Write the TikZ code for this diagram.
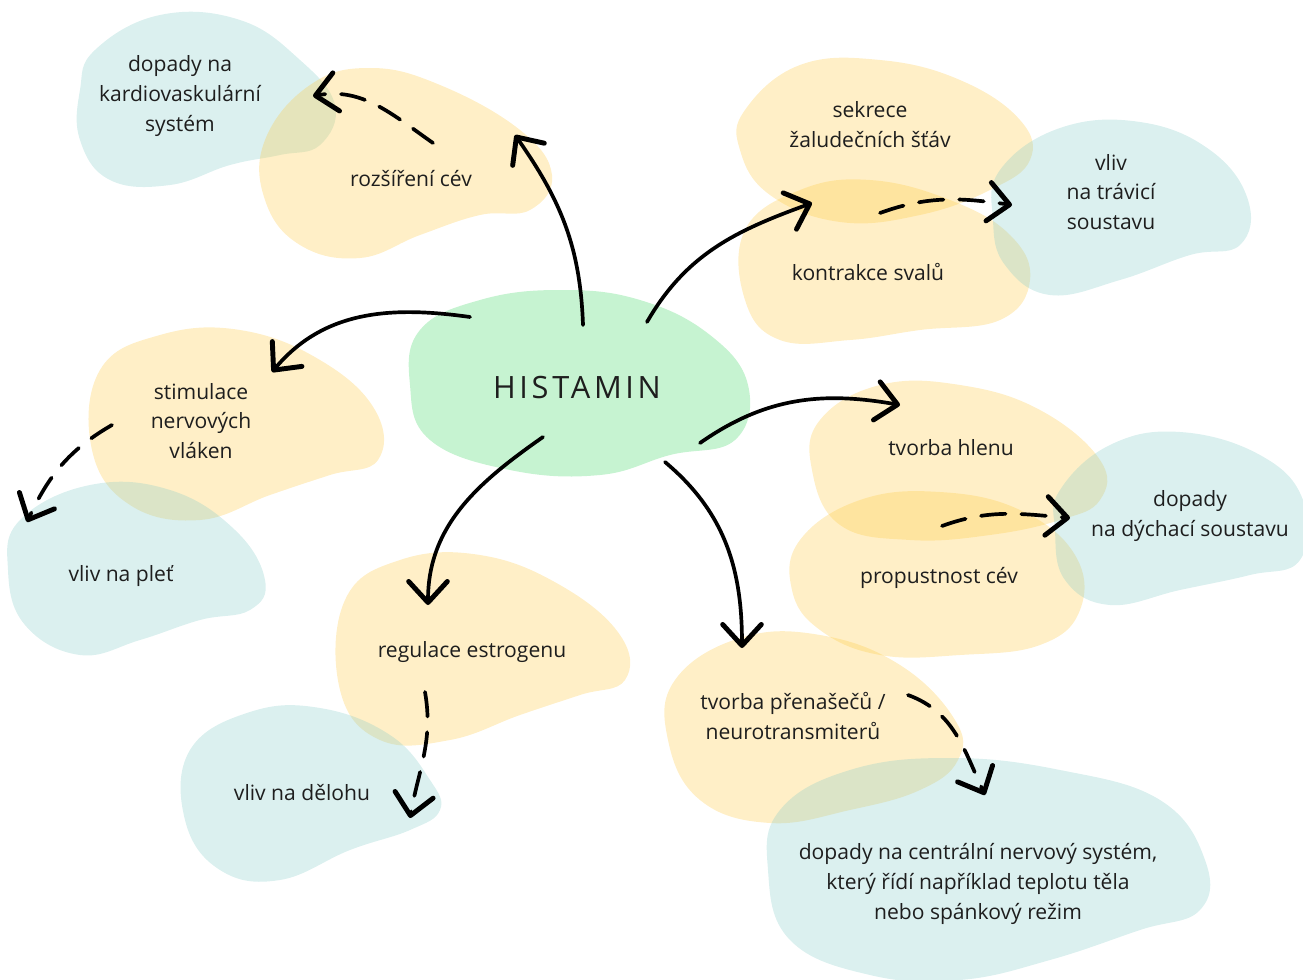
\documentclass[tikz,border=0pt]{standalone}
\usepackage{fontspec}
\setmainfont{Open Sans}
\newfontfamily\histfont[LetterSpace=12]{Open Sans}
\usepackage{tikz}
\usetikzlibrary{arrows.meta,calc}
\definecolor{yel}{RGB}{254,202,68}
\definecolor{blu}{RGB}{135,205,202}
\definecolor{grn}{RGB}{198,243,209}
\definecolor{ink}{RGB}{30,30,30}

\begin{document}
\begin{tikzpicture}[
    x=0.02cm,y=-0.02cm,
    every node/.style={font=\fontsize{12}{17}\selectfont,text=ink},
    lbl/.style={align=center},
    yblob/.style={fill=yel,fill opacity=0.3},
    bblob/.style={fill=blu,fill opacity=0.3},
    arr/.style={
        -{Straight Barb[length=12pt,width=22pt,round,line width=2.8pt]},
        line width=2.1pt,line cap=round
    },
    darr/.style={arr,dash pattern=on 14pt off 9pt}
]
\useasboundingbox (0,0) rectangle (1303,980);

\fill[bblob] plot[smooth cycle,tension=0.7] coordinates {(95,50) (160,15) (240,20) (300,60) (335,105) (320,145) (280,155) (230,165) (170,185) (110,180) (80,140) (80,90)};
\fill[yblob] plot[smooth cycle,tension=0.7] coordinates {(265,140) (310,85) (370,68) (440,85) (520,130) (552,175) (530,210) (480,215) (420,235) (360,258) (300,245) (265,200)};
\fill[yblob] plot[smooth cycle,tension=0.7] coordinates {(745,110) (800,65) (880,60) (960,80) (1020,120) (1030,160) (990,190) (920,215) (840,222) (770,195) (740,150)};
\fill[yblob] plot[smooth cycle,tension=0.7] coordinates {(745,230) (800,190) (870,180) (950,200) (1010,235) (1030,280) (1000,320) (920,330) (850,340) (780,340) (745,300)};
\fill[bblob] plot[smooth cycle,tension=0.7] coordinates {(1000,170) (1060,128) (1140,122) (1210,150) (1248,200) (1240,245) (1190,255) (1120,280) (1050,295) (1005,265) (993,220)};
\fill[grn] plot[smooth cycle,tension=0.7] coordinates {(420,330) (480,300) (560,290) (640,300) (710,335) (748,385) (735,440) (670,455) (600,475) (510,470) (430,440) (410,385)};
\fill[yblob] plot[smooth cycle,tension=0.7] coordinates {(100,370) (160,335) (240,330) (320,360) (375,410) (378,460) (330,475) (270,495) (200,520) (130,505) (92,450)};
\fill[bblob] plot[smooth cycle,tension=0.7] coordinates {(20,520) (90,485) (170,490) (235,530) (265,580) (250,610) (200,620) (140,640) (80,655) (25,625) (8,570)};
\fill[yblob] plot[smooth cycle,tension=0.7] coordinates {(820,420) (880,385) (960,385) (1040,410) (1100,460) (1100,500) (1060,520) (990,535) (910,540) (840,525) (812,470)};
\fill[yblob] plot[smooth cycle,tension=0.7] coordinates {(800,540) (860,500) (940,492) (1020,510) (1075,555) (1080,610) (1040,645) (960,655) (880,655) (820,630) (792,590)};
\fill[bblob] plot[smooth cycle,tension=0.7] coordinates {(1060,490) (1110,445) (1180,432) (1260,455) (1303,500) (1300,560) (1250,575) (1180,590) (1110,605) (1065,580) (1055,530)};
\fill[yblob] plot[smooth cycle,tension=0.7] coordinates {(345,600) (400,560) (480,555) (560,585) (620,635) (625,680) (580,695) (520,715) (450,740) (380,740) (340,690)};
\fill[bblob] plot[smooth cycle,tension=0.7] coordinates {(190,750) (250,712) (320,708) (390,735) (430,780) (440,810) (410,830) (350,850) (280,880) (220,870) (185,820)};
\fill[yblob] plot[smooth cycle,tension=0.7] coordinates {(675,680) (740,638) (820,635) (900,665) (955,720) (958,760) (920,790) (850,810) (770,823) (700,800) (668,740)};
\fill[bblob] plot[smooth cycle,tension=0.7] coordinates {(780,810) (850,770) (950,758) (1060,770) (1160,800) (1205,860) (1200,910) (1140,930) (1050,960) (960,980) (870,975) (790,940) (768,870)};

\node[lbl] (kard) at (180,96) {dopady na\\kardiovaskulární\\systém};
\node[lbl] (cev) at (411,179) {rozšíření cév};
\node[lbl] (sekr) at (870,125) {sekrece\\žaludečních šťáv};
\node[lbl] (kontr) at (868,272) {kontrakce svalů};
\node[lbl] (trav) at (1111,192) {vliv\\na trávicí\\soustavu};
\node[font=\histfont\fontsize{17.5}{20}\selectfont] (hist) at (577,388) {HISTAMIN};
\node[lbl] (stim) at (201,421) {stimulace\\nervových\\vláken};
\node[lbl] (plet) at (121,576) {vliv na pleť};
\node[lbl] (hlen) at (951,448) {tvorba hlenu};
\node[lbl] (prop) at (939,578) {propustnost cév};
\node[lbl] (dych) at (1190,516) {dopady\\na dýchací soustavu};
\node[lbl] (estr) at (472,652) {regulace estrogenu};
\node[lbl] (delo) at (302,793) {vliv na dělohu};
\node[lbl] (pren) at (793,716) {tvorba přenašečů /\\neurotransmiterů};
\node[lbl] (cns) at (978,884) {dopady na centrální nervový systém,\\který řídí například teplotu těla\\nebo spánkový režim};

\draw[arr] ($(hist)+(6,-63)$) to[out=92,in=-55] ($(cev)+(104,-44)$);
\draw[arr] ($(hist)+(70,-66)$) to[out=60,in=200] ($(kontr)+(-56,-69)$);
\draw[arr] ($(hist)+(-107,-71)$) to[out=172,in=50] ($(stim)+(71,-49)$);
\draw[arr] ($(hist)+(123,55)$) to[out=35,in=170] ($(hlen)+(-51,-43)$);
\draw[arr] ($(hist)+(-34,49)$) to[out=215,in=90] ($(estr)+(-44,-47)$);
\draw[arr] ($(hist)+(88,74)$) to[out=-40,in=90] ($(pren)+(-51,-68)$);

\draw[darr] ($(cev)+(22,-36)$) to[out=145,in=10] ($(kard)+(133,0)$);
\draw[darr] ($(kontr)+(12,-59)$) to[out=20,in=172] ($(trav)+(-99,13)$);
\draw[darr] ($(stim)+(-89,4)$) to[out=210,in=65] ($(plet)+(-94,-54)$);
\draw[darr] ($(prop)+(3,-52)$) to[out=20,in=175] ($(dych)+(-120,2)$);
\draw[darr] ($(estr)+(-47,40)$) to[out=-80,in=80] ($(delo)+(108,25)$);
\draw[darr] ($(pren)+(115,-21)$) to[out=-20,in=115] ($(cns)+(7,-89)$);
\end{tikzpicture}
\end{document}
